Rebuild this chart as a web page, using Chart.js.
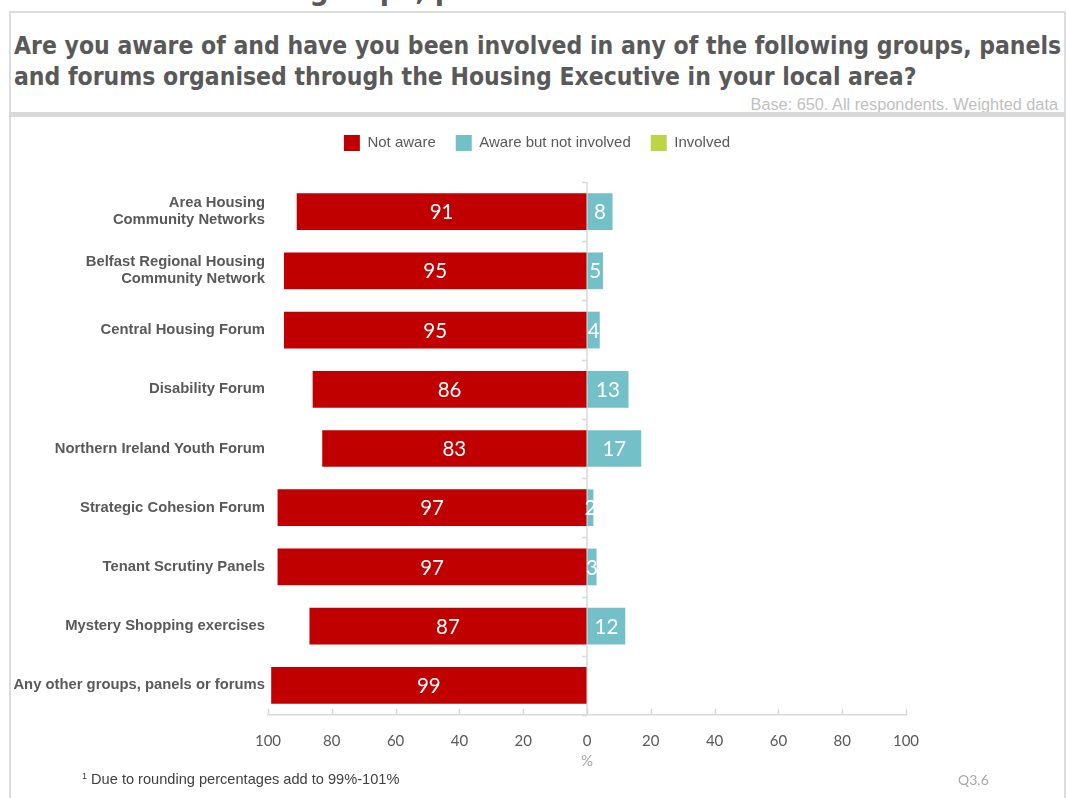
<!DOCTYPE html>
<html>
<head>
<meta charset="utf-8">
<script src="https://cdn.jsdelivr.net/npm/chart.js@4.4.1/dist/chart.umd.min.js"></script>
<style>
  html, body { margin: 0; padding: 0; background: #fff; width: 1067px; height: 798px; overflow: hidden; }
  body { position: relative; font-family: 'Liberation Sans', Arial, sans-serif; }
  .frame { position: absolute; left: 9px; top: 11px; width: 1057px; height: 800px; border: 2px solid #dcdcdc; border-bottom: none; box-sizing: border-box; }
  .sep { position: absolute; left: 9px; top: 112px; width: 1057px; height: 5px; background: #d9d9d9; }
  .heading { position: absolute; left: 0; top: -28px; font: bold 30px 'DejaVu Sans Condensed', 'DejaVu Sans', sans-serif; line-height: 36px; color: #595959; white-space: nowrap; }
  .title { position: absolute; left: 14px; top: 30px; font: bold 24.5px 'DejaVu Sans Condensed', 'DejaVu Sans', sans-serif; line-height: 31px; color: #595959; white-space: nowrap; }
  .base { position: absolute; right: 9px; top: 95px; font: 16.3px 'Liberation Sans', Arial, sans-serif; color: #bfbfbf; white-space: nowrap; }
  .chartbox { position: absolute; left: 11px; top: 115px; width: 1052px; height: 683px; }
  .note { position: absolute; left: 82px; top: 771px; font: 14.6px 'Liberation Sans', Arial, sans-serif; color: #404040; white-space: nowrap; }
  .note sup { font-size: 9px; vertical-align: 5px; }
  .qref { position: absolute; left: 958px; top: 771px; font: 14px Lato, sans-serif; color: #a6a6a6; }
</style>
</head>
<body>
<div class="heading" id="heading">Awareness of <span id="hword">groups</span>, panels and forums</div>
<div class="frame"></div>
<div class="title">Are you aware of and have you been involved in any of the following groups, panels<br>and forums organised through the Housing Executive in your local area?</div>
<div class="base">Base: 650. All respondents. Weighted data</div>
<div class="sep"></div>
<div class="chartbox"><canvas id="chart"></canvas></div>
<div class="note"><sup>1</sup> Due to rounding percentages add to 99%-101%</div>
<div class="qref">Q3.6</div>

<script>
// Survey groups, top to bottom
const categories = [
  ['Area Housing', 'Community Networks'],
  ['Belfast Regional Housing', 'Community Network'],
  'Central Housing Forum',
  'Disability Forum',
  'Northern Ireland Youth Forum',
  'Strategic Cohesion Forum',
  'Tenant Scrutiny Panels',
  'Mystery Shopping exercises',
  'Any other groups, panels or forums'
];

// Percentages per group
const notAware = [91, 95, 95, 86, 83, 97, 97, 87, 99];
const awareNotInvolved = [8, 5, 4, 13, 17, 2, 3, 12, 0];
const involved = [0, 0, 0, 0, 0, 0, 0, 0, 0];

// Axis tick values and their printed labels (both sides read as positive %)
const tickValues = [-100, -80, -60, -40, -20, 0, 20, 40, 60, 80, 100];
const tickLabels = ['100', '80', '60', '40', '20', '0', '20', '40', '60', '80', '100'];

const seriesNames = ['Not aware', 'Aware but not involved', 'Involved'];
const seriesColors = ['#c00000', '#73c0c8', '#bdd542'];

// Line up the partially visible page heading
(function () {
  const h = document.getElementById('heading');
  const w = document.getElementById('hword');
  h.style.left = (309 - w.offsetLeft) + 'px';
})();

const GRID = '#d9d9d9';

// Extra space between the legend and the plot
const legendGap = {
  id: 'legendGap',
  afterInit(chart) {
    const legend = chart.legend;
    const fit = legend.fit;
    legend.fit = function () {
      fit.call(this);
      this.height += 21;
    };
  }
};

// Zero line with category separators, and inward tick marks on the value axis
const axisMarks = {
  id: 'axisMarks',
  beforeDatasetsDraw(chart) {
    const { ctx, chartArea, scales: { x, y } } = chart;
    const x0 = x.getPixelForValue(0);
    ctx.save();
    ctx.strokeStyle = GRID;
    ctx.lineWidth = 1.5;
    ctx.beginPath();
    ctx.moveTo(x0, chartArea.top);
    ctx.lineTo(x0, chartArea.bottom);
    for (let i = 0; i <= categories.length; i++) {
      const yy = Math.round(y.getPixelForValue(i - 0.5)) + 0.5;
      ctx.moveTo(x0 - 5, yy);
      ctx.lineTo(x0, yy);
    }
    ctx.stroke();
    ctx.restore();
  },
  afterDraw(chart) {
    const { ctx, chartArea, scales: { x } } = chart;
    ctx.save();
    ctx.strokeStyle = GRID;
    ctx.lineWidth = 1.5;
    ctx.beginPath();
    tickValues.forEach(v => {
      const px = Math.round(x.getPixelForValue(v)) + 0.5;
      ctx.moveTo(px, chartArea.bottom);
      ctx.lineTo(px, chartArea.bottom - 6);
    });
    ctx.stroke();
    ctx.restore();
  }
};

// Value labels centred in each bar segment
const valueLabels = {
  id: 'valueLabels',
  afterDatasetsDraw(chart) {
    const { ctx } = chart;
    ctx.save();
    ctx.fillStyle = '#ffffff';
    ctx.font = '20.5px Lato, sans-serif';
    ctx.textAlign = 'center';
    ctx.textBaseline = 'middle';
    chart.data.datasets.forEach((ds, di) => {
      const meta = chart.getDatasetMeta(di);
      meta.data.forEach((bar, i) => {
        const v = Math.abs(ds.data[i]);
        if (!v) return;
        ctx.fillText(String(v), (bar.x + bar.base) / 2, bar.y + 1);
      });
    });
    ctx.restore();
  }
};

new Chart(document.getElementById('chart'), {
  type: 'bar',
  data: {
    labels: categories,
    datasets: [
      { label: seriesNames[0], data: notAware.map(v => -v), backgroundColor: seriesColors[0] },
      { label: seriesNames[1], data: awareNotInvolved, backgroundColor: seriesColors[1] },
      { label: seriesNames[2], data: involved, backgroundColor: seriesColors[2] }
    ]
  },
  options: {
    indexAxis: 'y',
    responsive: true,
    maintainAspectRatio: false,
    animation: false,
    datasets: { bar: { barPercentage: 0.62, categoryPercentage: 1 } },
    layout: { padding: { top: 0, right: 0, bottom: 28, left: 0 } },
    plugins: {
      legend: {
        position: 'top',
        labels: {
          boxWidth: 16, boxHeight: 16, padding: 20,
          color: '#595959',
          font: { family: "'Liberation Sans', Arial, sans-serif", size: 15 }
        }
      },
      tooltip: { enabled: false }
    },
    scales: {
      x: {
        stacked: true,
        min: -100, max: 100,
        afterBuildTicks(scale) { scale.ticks = tickValues.map(v => ({ value: v })); },
        afterFit(scale) { scale.height = 55; },
        ticks: {
          padding: 17,
          color: '#595959',
          font: { family: 'Lato, sans-serif', size: 15 },
          callback: (v) => tickLabels[tickValues.indexOf(v)]
        },
        grid: { drawOnChartArea: false, drawTicks: false },
        border: { display: true, color: GRID, width: 1.5 },
        title: {
          display: true, text: '%', color: '#a6a6a6',
          font: { family: 'Lato, sans-serif', size: 15 },
          padding: { top: 2, bottom: 0 }
        }
      },
      y: {
        stacked: true,
        afterFit(scale) { scale.width = 257; },
        ticks: {
          padding: 3,
          color: '#595959',
          font: { family: "'Liberation Sans', Arial, sans-serif", size: 14.8, weight: 'bold', lineHeight: 1.15 }
        },
        grid: { display: false, drawTicks: false },
        border: { display: false }
      },
      // empty right-hand margin of the plot
      yRight: {
        type: 'category',
        position: 'right',
        display: true,
        afterFit(scale) { scale.width = 157; },
        ticks: { display: false },
        grid: { display: false, drawTicks: false },
        border: { display: false }
      }
    }
  },
  plugins: [legendGap, axisMarks, valueLabels]
});
</script>
</body>
</html>
